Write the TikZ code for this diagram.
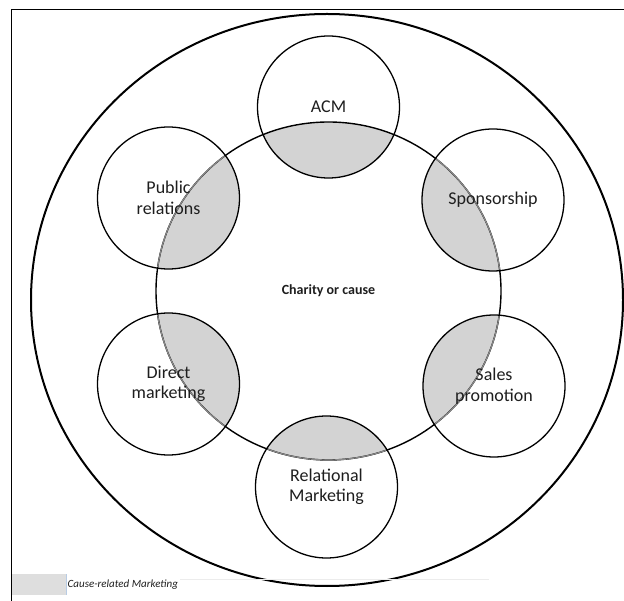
\documentclass[tikz,border=0pt]{standalone}
\usepackage{fontspec}
\setmainfont{Carlito}
\definecolor{overlap}{HTML}{D3D3D3}
\definecolor{rim}{HTML}{8A8A8A}
\definecolor{legendgray}{HTML}{DEDEDE}
\definecolor{ink}{HTML}{1E1E1E}
\definecolor{tablerule}{HTML}{ECECEC}
\definecolor{cellrule}{HTML}{B8CCE4}

\begin{document}
\begin{tikzpicture}[x=1pt,y=-1pt,
  channel/.style={circle, draw, line width=1.3pt, minimum size=142pt, inner sep=0pt,
    align=center, text=ink, font=\fontsize{18}{20.5}\selectfont},
  causering/.style={line width=1.4pt},
  outerring/.style={line width=2pt},
  frameline/.style={line width=1.3pt}]
\useasboundingbox (0,0) rectangle (624,601);

% page frame (left and top edges)
\draw[frameline] (11.5,601) -- (11.5,9.5) -- (624,9.5);

% outer ring
\draw[outerring] (327,300) ellipse [x radius=296, y radius=286];

% centres of the six marketing channels
\coordinate (cACM) at (328.5,107);
\coordinate (cPR)  at (168.5,198);
\coordinate (cSP)  at (493,200);
\coordinate (cDM)  at (168.5,384);
\coordinate (cSA)  at (494,386);
\coordinate (cRM)  at (326.5,487);
\coordinate (cause) at (328.5,291);

% shaded overlaps between each channel and the charity circle
\foreach \c in {cACM,cPR,cSP,cDM,cSA,cRM} {
  \begin{scope}
    \clip (\c) circle (71);
    \fill[overlap] (cause) ellipse [x radius=172.5, y radius=169];
  \end{scope}
}

% charity circle
\draw[causering] (cause) ellipse [x radius=172.5, y radius=169];
% lighter arc inside the overlaps
\foreach \c in {cPR,cSP,cDM,cSA,cRM} {
  \begin{scope}
    \clip (\c) circle (70);
    \draw[causering, rim, line width=1.2pt] (cause) ellipse [x radius=172.5, y radius=169];
  \end{scope}
}

\node[font=\bfseries\fontsize{14}{16}\selectfont, text=ink] (charity) at (cause) {Charity or cause};

% channel circles
\node[channel] (acm) at (cACM) {ACM};
\node[channel] (pr)  at (cPR)  {Public\\relations};
\node[channel] (sp)  at (cSP)  {Sponsorship};
\node[channel] (dm)  at (cDM)  {Direct\\marketing};
\node[channel] (sa)  at (cSA)  {Sales\\promotion};
\node[channel] (rm)  at (cRM)  {Relational\\Marketing};

% legend
\draw[tablerule, line width=0.8pt] (180,579) -- (489,579);
\fill[legendgray] (12.2,574) rectangle (66,595);
\draw[cellrule, line width=0.6pt] (66.5,574) -- (66.5,595);
\node[anchor=west, inner sep=0pt, text=ink, font=\itshape\fontsize{11}{13}\selectfont] (legend) at (67.5,585) {Cause-related Marketing};
\end{tikzpicture}
\end{document}
